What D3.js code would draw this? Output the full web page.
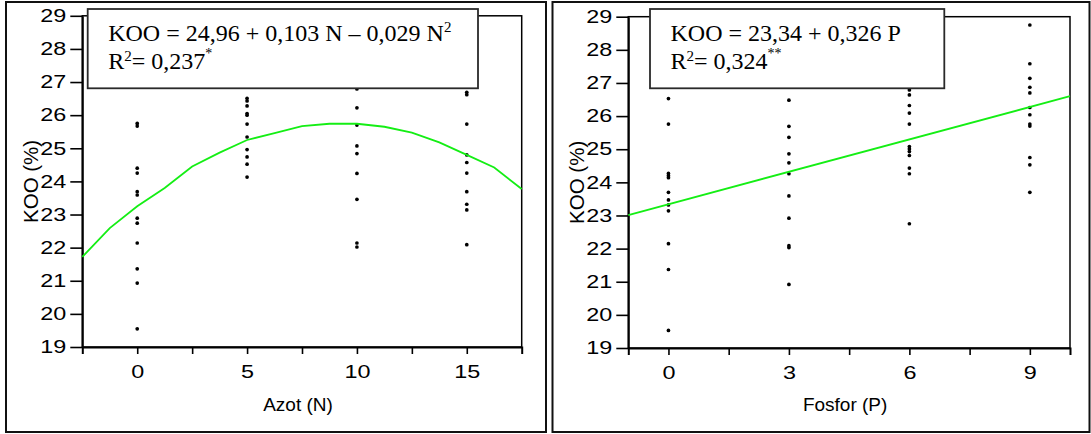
<!DOCTYPE html>
<html>
<head>
<meta charset="utf-8">
<script src="https://cdn.jsdelivr.net/npm/d3@7"></script>
<style>
  html, body { margin: 0; padding: 0; background: #fff; }
  svg { display: block; }
  .axis text, .title { font-family: "Liberation Sans", Arial, sans-serif; fill: #000; }
  .eq { font-family: "Liberation Serif", "Times New Roman", serif; fill: #000; }
</style>
</head>
<body>
<svg id="chart" width="1091" height="434"></svg>
<script>
// ---- Azot (N) trial: KOO (%) observed at each N dose ----
const nDoses = [0, 5, 10, 15];
const kooAtN0  = [25.75, 25.67, 24.40, 24.25, 23.69, 23.59, 22.89, 22.74, 22.14, 21.36, 20.93, 19.55];
const kooAtN5  = [26.51, 26.43, 26.28, 26.05, 26.00, 25.73, 25.34, 24.96, 24.74, 24.52, 24.13];
const kooAtN10 = [26.79, 26.22, 25.70, 25.07, 24.84, 24.24, 23.46, 22.14, 22.02];
const kooAtN15 = [26.69, 26.62, 25.73, 24.80, 24.57, 24.25, 23.69, 23.31, 23.14, 22.09];

// fitted quadratic response, sampled along the N axis
const fitN   = [-2.5, -1.25, 0, 1.25, 2.5, 3.75, 5, 6.25, 7.5, 8.75, 10, 11.25, 12.5, 13.75, 15, 16.25, 17.5];
const fitKooN = [21.72, 22.59, 23.25, 23.80, 24.45, 24.87, 25.25, 25.46, 25.67, 25.74, 25.74, 25.65, 25.47, 25.18, 24.80, 24.42, 23.77];

// ---- Fosfor (P) trial ----
const pDoses = [0, 3, 6, 9];
const kooAtP0 = [26.53, 25.76, 24.27, 24.20, 24.14, 23.70, 23.47, 23.32, 23.14, 22.15, 21.37, 19.53];
const kooAtP3 = [26.48, 25.69, 25.36, 24.86, 24.59, 24.26, 23.59, 22.92, 22.09, 22.03, 20.92];
const kooAtP6 = [26.79, 26.64, 26.32, 26.09, 25.76, 25.08, 25.01, 24.93, 24.81, 24.43, 24.26, 22.75];
const kooAtP9 = [28.75, 27.58, 27.14, 26.87, 26.70, 26.26, 26.04, 25.76, 25.70, 24.75, 24.53, 23.70];

// fitted line KOO = 23,34 + 0,326 P at the ends of the P axis
const fitP    = [-1, 10];
const fitKooP = [23.014, 26.60];

// ---- axes ----
const yTicks = [19, 20, 21, 22, 23, 24, 25, 26, 27, 28, 29];
const nTicks = [0, 2.5, 5, 7.5, 10, 12.5, 15];
const nTickLabels = [0, 5, 10, 15];
const pTicks = [0, 1.5, 3, 4.5, 6, 7.5, 9];
const pTickLabels = [0, 3, 6, 9];

const svg = d3.select("#chart");
const DIGIT_STRETCH = 1.3;   // tick numerals are set in a wide face

function widen(sel) {
  sel.each(function () {
    const t = d3.select(this);
    const x0 = +t.attr("x") || 0, y0 = +t.attr("y") || 0;
    t.attr("x", 0).attr("y", 0)
     .attr("transform", `translate(${x0},${y0}) scale(${DIGIT_STRETCH},1)`);
  });
}

function panel(cfg) {
  const g = svg.append("g");

  // outer frame
  g.append("rect")
    .attr("x", cfg.frame[0]).attr("y", cfg.frame[1])
    .attr("width", cfg.frame[2]).attr("height", cfg.frame[3])
    .attr("fill", "none").attr("stroke", "#111").attr("stroke-width", 2);

  const x = d3.scaleLinear().domain(cfg.xDomain).range([cfg.left, cfg.right]);
  const y = d3.scaleLinear().domain([19, 29]).range([cfg.bottom, cfg.top]);

  // plot box
  g.append("rect")
    .attr("x", cfg.left).attr("y", cfg.top)
    .attr("width", cfg.right - cfg.left).attr("height", cfg.bottom - cfg.top)
    .attr("fill", "none").attr("stroke", "#000").attr("stroke-width", 1.5);

  const labelSet = new Set(cfg.tickLabels);
  const xAxis = d3.axisBottom(x)
    .tickValues(cfg.ticks)
    .tickSize(7).tickSizeOuter(7).tickPadding(11)
    .tickFormat(d => labelSet.has(d) ? String(d) : "");
  const gx = g.append("g").attr("class", "axis")
    .attr("transform", `translate(0,${cfg.bottom})`).call(xAxis);

  const yAxis = d3.axisLeft(y)
    .tickValues(yTicks).tickSize(12).tickSizeOuter(0).tickPadding(4)
    .tickFormat(d3.format("d"));
  const gy = g.append("g").attr("class", "axis")
    .attr("transform", `translate(${cfg.left},0)`).call(yAxis);

  [gx, gy].forEach(a => {
    a.attr("font-size", null).attr("font-family", null);
    a.selectAll("path.domain").attr("stroke", "#000").attr("stroke-width", 2);
    a.selectAll(".tick line").attr("stroke", "#000").attr("stroke-width", 1.6);
    a.selectAll(".tick text").attr("font-size", 18);
    widen(a.selectAll(".tick text"));
  });

  // scatter points
  cfg.groups.forEach(([dose, vals]) => {
    g.append("g").selectAll("circle").data(vals).join("circle")
      .attr("cx", x(dose)).attr("cy", d => y(d))
      .attr("r", 1.85).attr("fill", "#000");
  });

  // fitted response
  const pts = cfg.fitX.map((v, i) => [v, cfg.fitY[i]]);
  g.append("path")
    .datum(pts)
    .attr("d", d3.line().x(d => x(d[0])).y(d => y(d[1])))
    .attr("fill", "none").attr("stroke", "#14ee14").attr("stroke-width", 1.8);

  // axis titles
  g.append("text").attr("class", "title")
    .attr("transform", `translate(${cfg.yTitleX},${(cfg.top + cfg.bottom) / 2}) rotate(-90)`)
    .attr("text-anchor", "middle").attr("dy", "0.35em")
    .attr("font-size", 20.5).text("KOO (%)");
  g.append("text").attr("class", "title")
    .attr("x", (cfg.left + cfg.right) / 2 - 4).attr("y", 411)
    .attr("text-anchor", "middle").attr("font-size", 19).text(cfg.xTitle);

  // equation box
  const b = cfg.box;
  g.append("rect")
    .attr("x", b[0]).attr("y", b[1]).attr("width", b[2]).attr("height", b[3])
    .attr("fill", "#fff").attr("stroke", "#2a2a2a").attr("stroke-width", 1.8);

  const t1 = g.append("text").attr("class", "eq")
    .attr("x", b[0] + 20.5).attr("y", 41).attr("font-size", 24);
  t1.append("tspan").text(cfg.eqMain);
  if (cfg.eqSquare) {
    t1.append("tspan").attr("font-size", 15).attr("dy", -9).text("2");
  }
  const t2 = g.append("text").attr("class", "eq")
    .attr("x", b[0] + 20.5).attr("y", 69).attr("font-size", 24);
  t2.append("tspan").text("R");
  t2.append("tspan").attr("font-size", 15).attr("dy", -8).text("2");
  t2.append("tspan").attr("dy", 8).text("= " + cfg.r2);
  t2.append("tspan").attr("font-size", 14).attr("dy", -11).text(cfg.sig);
}

panel({
  frame: [6, 2, 540, 430],
  left: 82.3, right: 521.7, top: 15.8, bottom: 347,
  xDomain: [-2.5, 17.5], ticks: nTicks, tickLabels: nTickLabels,
  groups: nDoses.map((d, i) => [d, [kooAtN0, kooAtN5, kooAtN10, kooAtN15][i]]),
  fitX: fitN, fitY: fitKooN,
  yTitleX: 31, xTitle: "Azot (N)",
  box: [87.7, 9, 390.3, 79.3],
  eqMain: "KOO = 24,96 + 0,103 N \u2013 0,029 N", eqSquare: true,
  r2: "0,237", sig: "*"
});

panel({
  frame: [552.5, 2, 537, 430],
  left: 628.3, right: 1070, top: 16.7, bottom: 348,
  xDomain: [-1, 10], ticks: pTicks, tickLabels: pTickLabels,
  groups: pDoses.map((d, i) => [d, [kooAtP0, kooAtP3, kooAtP6, kooAtP9][i]]),
  fitX: fitP, fitY: fitKooP,
  yTitleX: 577, xTitle: "Fosfor (P)",
  box: [650, 9, 294.3, 79.3],
  eqMain: "KOO = 23,34 + 0,326 P", eqSquare: false,
  r2: "0,324", sig: "**"
});
</script>
</body>
</html>
